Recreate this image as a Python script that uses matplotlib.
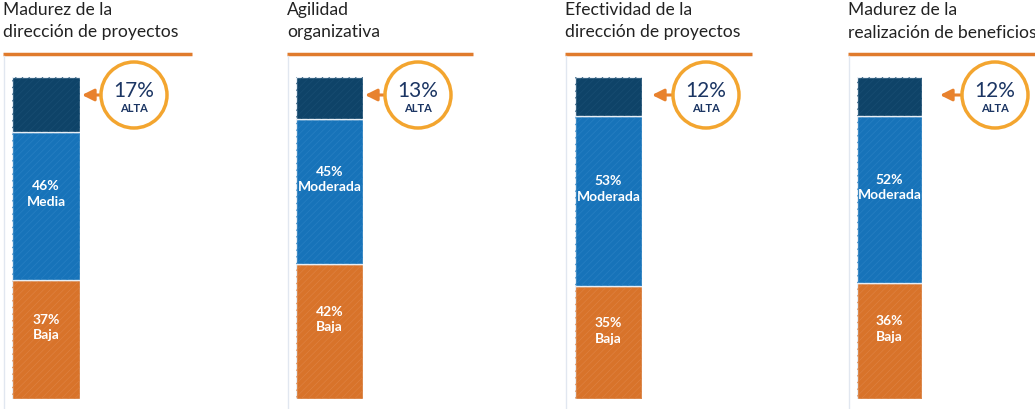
import matplotlib
matplotlib.use("Agg")
import matplotlib.pyplot as plt
from matplotlib.patches import Circle

plt.rcParams["font.family"] = ["Lato", "DejaVu Sans"]
plt.rcParams["hatch.linewidth"] = 0.5

# data
titles = [
    "Madurez de la\ndirección de proyectos",
    "Agilidad\norganizativa",
    "Efectividad de la\ndirección de proyectos",
    "Madurez de la\nrealización de beneficios",
]
baja = [37, 42, 35, 36]
media = [46, 45, 53, 52]
alta = [17, 13, 12, 12]
mid_labels = ["Media", "Moderada", "Moderada", "Moderada"]
low_label = "Baja"
high_label = "ALTA"

# layout (pixels)
W, H = 1035, 410
panel_x0 = [3, 287, 565, 848]
panel_x1 = [192, 473, 752, 1035]
bar_x0 = [12, 296, 575, 857]
bar_x1 = [80, 363, 642, 922]
circle_cx = [134, 418, 706, 995]
arrow_tip = [82, 365, 652, 940]
bar_top, bar_bot = 78, 400
circle_cy, circle_r = 96, 33

c_low = "#d8732a"
c_mid = "#1773b9"
c_high = "#0e4368"
c_low_h = "#de8140"
c_mid_h = "#277fc2"
c_high_h = "#184d72"
c_line = "#e07b2c"
c_ring = "#f3a52f"
c_arrow = "#e8822e"
c_navy = "#1b3563"

fig = plt.figure(figsize=(W / 100, H / 100), dpi=100)
over = fig.add_axes([0, 0, 1, 1])
over.set_xlim(0, W)
over.set_ylim(H, 0)
over.axis("off")

for i in range(4):
    # title and rules
    over.text(panel_x0[i], 2, titles[i], fontsize=12.6, color="#222222",
              ha="left", va="top", linespacing=1.5)
    over.plot([panel_x0[i], panel_x1[i]], [55, 55], color=c_line, lw=2.5,
              solid_capstyle="butt")
    over.plot([panel_x0[i] + 1, panel_x0[i] + 1], [57, H], color="#e1e7f0", lw=1)

    # stacked bar
    ax = fig.add_axes([bar_x0[i] / W, 1 - bar_bot / H,
                       (bar_x1[i] - bar_x0[i]) / W, (bar_bot - bar_top) / H])
    ax.set_xlim(-0.5, 0.5)
    ax.set_ylim(0, 100)
    ax.axis("off")
    segs = [(baja[i], c_low, c_low_h), (media[i], c_mid, c_mid_h),
            (alta[i], c_high, c_high_h)]
    bottom = 0
    for val, fc, hc in segs:
        ax.bar(0, val, bottom=bottom, width=1, color=fc, edgecolor="#e8eef5",
               linewidth=1.0)
        ax.bar(0, val, bottom=bottom, width=1, color="none", edgecolor=hc,
               linewidth=0, hatch="/////")
        bottom += val

    ax.text(0, baja[i] / 2 + 4, f"{baja[i]}%\n{low_label}", ha="center",
            va="center", color="white", fontsize=10, fontweight="bold",
            linespacing=1.35)
    ax.text(0, baja[i] + media[i] / 2 + 4, f"{media[i]}%\n{mid_labels[i]}",
            ha="center", va="center", color="white", fontsize=10,
            fontweight="bold", linespacing=1.35)

    # callout circle
    over.add_patch(Circle((circle_cx[i], circle_cy), circle_r, facecolor="white",
                          edgecolor=c_ring, lw=2.5, zorder=5))
    over.annotate("", xy=(arrow_tip[i], circle_cy),
                  xytext=(circle_cx[i] - circle_r, circle_cy),
                  arrowprops=dict(arrowstyle="-|>,head_length=0.7,head_width=0.35",
                                  color=c_arrow, lw=2.2, shrinkA=0, shrinkB=0),
                  zorder=4)
    over.text(circle_cx[i], circle_cy - 5, f"{alta[i]}%", ha="center",
              va="center", fontsize=15, color=c_navy, zorder=6)
    over.text(circle_cx[i], circle_cy + 12, high_label, ha="center",
              va="center", fontsize=8, fontweight="bold", color=c_navy, zorder=6)

fig.savefig("out.png", dpi=100)
